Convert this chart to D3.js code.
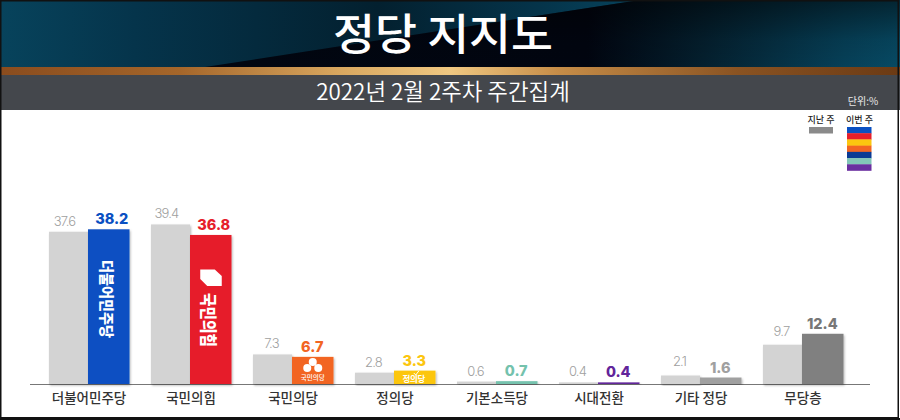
<!DOCTYPE html>
<html><head><meta charset="utf-8">
<script src="https://cdn.jsdelivr.net/npm/d3@7"></script>
<style>html,body{margin:0;padding:0;background:#fff}svg{display:block}text{font-family:"Noto Sans CJK KR",sans-serif}.n{font-family:Inter,sans-serif}</style>
</head><body><svg id="c" width="900" height="420"></svg>
<script>
const categories=["더불어민주당","국민의힘","국민의당","정의당","기본소득당","시대전환","기타 정당","무당층"];
const lastWeek=[37.6,39.4,7.3,2.8,0.6,0.4,2.1,9.7];
const lastWeekLabels=["37.6","39.4","7.3","2.8","0.6","0.4","2.1","9.7"];
const thisWeek=[38.2,36.8,6.7,3.3,0.7,0.4,1.6,12.4];
const thisWeekLabels=["38.2","36.8","6.7","3.3","0.7","0.4","1.6","12.4"];
const thisColors=["#0a50c2","#e61e2b","#f26522","#fcc60f","#74c2ad","#62259a","#a0a0a0","#808080"];
const labelColors=["#0a50c2","#e61e2b","#f26522","#fcc60f","#74c2ad","#62259a","#a0a0a0","#777777"];
const legendColors=["#0a50c2","#e61e2b","#fcc60f","#f26522","#0a3a94","#82c6b8","#6a2fa0"];
const title="정당 지지도";
const subtitle="2022년 2월 2주차 주간집계";
const unit="단위:%";
const legendLabels=["지난 주","이번 주"];

const svg=d3.select("#c");
const defs=svg.append("defs");
function grad(id,stops,vertical){
  const g=defs.append("linearGradient").attr("id",id);
  if(vertical) g.attr("x2",0).attr("y2",1);
  stops.forEach(s=>{const t=g.append("stop").attr("offset",s[0]).attr("stop-color",s[1]); if(s[2]!==undefined) t.attr("stop-opacity",s[2]);});
}
grad("hdr",[[0,"#07435c"],[0.15,"#05344b"],[0.42,"#03202f"],[0.6,"#05344a"],[0.72,"#07455f"],[1,"#07455f"]]);
grad("hdr2",[[0,"#010611"],[0.55,"#010510"],[0.72,"#04202f"],[0.92,"#064058"],[1,"#074a64"]]);
grad("fade",[[0,"#000",0.5],[0.6,"#000",0.1],[1,"#000",0]],true);
grad("gold",[[0,"#8a4c1e"],[0.2,"#a5662a"],[0.38,"#d9a860"],[0.5,"#f0c882"],[0.62,"#c68d48"],[0.82,"#8a5322"],[1,"#6b3a14"]]);
const f=defs.append("filter").attr("id","sh").attr("x","-10%").attr("y","-10%").attr("width","125%").attr("height","125%");
f.append("feDropShadow").attr("dx",1).attr("dy",1.5).attr("stdDeviation",1.2).attr("flood-color","#000").attr("flood-opacity",0.28);

// header
const wedge="M205 67 L640 0 L900 0 L900 67 Z";
svg.append("rect").attr("width",900).attr("height",420).attr("fill","#fff");
svg.append("rect").attr("x",0).attr("y",0).attr("width",900).attr("height",67).attr("fill","url(#hdr)");
svg.append("path").attr("d",wedge).attr("fill","url(#hdr2)");
svg.append("path").attr("d",wedge).attr("fill","url(#fade)");
svg.append("rect").attr("x",0).attr("y",67).attr("width",900).attr("height",8).attr("fill","url(#gold)");
svg.append("rect").attr("x",0).attr("y",75).attr("width",900).attr("height",35).attr("fill","#44474c");
svg.append("text").attr("x",443).attr("y",50).attr("text-anchor","middle").attr("font-size",43).attr("font-weight",500).attr("textLength",220).attr("lengthAdjust","spacingAndGlyphs").attr("fill","#fff").text(title);
svg.append("text").attr("x",443).attr("y",100).attr("text-anchor","middle").attr("font-size",22.4).attr("font-weight",350).attr("fill","#fff").text(subtitle);
svg.append("text").attr("x",863).attr("y",105).attr("text-anchor","middle").attr("font-size",10).attr("fill","#e8e8e8").text(unit);

// legend
svg.append("text").attr("x",821).attr("y",123).attr("text-anchor","middle").attr("font-size",9).attr("font-weight",500).attr("fill","#222").text(legendLabels[0]);
svg.append("text").attr("x",859.5).attr("y",123).attr("text-anchor","middle").attr("font-size",9).attr("font-weight",500).attr("fill","#222").text(legendLabels[1]);
svg.append("rect").attr("x",809).attr("y",127).attr("width",24).attr("height",6.5).attr("fill","#8a8a8a");
const ly=d3.scaleBand().domain(d3.range(legendColors.length)).range([127,170.5]);
svg.selectAll(".lg").data(legendColors).join("rect").attr("x",847).attr("width",24.5)
  .attr("y",(d,i)=>ly(i)).attr("height",ly.bandwidth()+0.3).attr("fill",d=>d);

// chart
const x=d3.scaleBand().domain(categories).range([37,853]).paddingInner(0).paddingOuter(0);
const y=d3.scaleLinear().domain([0,40]).range([384,222]);
const gw=39, cw=41.5, off=12;
svg.append("line").attr("x1",30).attr("x2",870).attr("y1",384.5).attr("y2",384.5).attr("stroke","#777").attr("stroke-width",1);
const g=svg.selectAll(".grp").data(categories).join("g").attr("transform",d=>`translate(${x(d)+off},0)`);
g.append("rect").attr("x",0).attr("width",gw).attr("y",(d,i)=>y(lastWeek[i])).attr("height",(d,i)=>384-y(lastWeek[i])).attr("fill","#d3d3d3").attr("filter","url(#sh)");
g.append("rect").attr("x",gw).attr("width",cw).attr("y",(d,i)=>y(thisWeek[i])).attr("height",(d,i)=>384-y(thisWeek[i])).attr("fill",(d,i)=>thisColors[i]).attr("filter","url(#sh)");
g.append("text").attr("class","n").attr("x",(d,i)=>i<2?15.5:18.5).attr("y",(d,i)=>y(lastWeek[i])-(i>=6?9:6)).attr("text-anchor","middle").attr("font-size",13).attr("font-weight",300).attr("fill","#a0a0a0").attr("letter-spacing",-0.8).text((d,i)=>lastWeekLabels[i]);
g.append("text").attr("class","n").attr("x",(d,i)=>gw+cw/2+(i<2?3:-0.5)).attr("y",(d,i)=>y(thisWeek[i])-5).attr("text-anchor","middle").attr("font-size",14.5).attr("font-weight",800).attr("fill",(d,i)=>labelColors[i]).text((d,i)=>thisWeekLabels[i]);
g.append("text").attr("x",40).attr("y",402.5).attr("text-anchor","middle").attr("font-size",13.5).attr("font-weight",500).attr("fill","#333").text(d=>d);

// party marks inside bars
const cx=i=>x(categories[i])+off+gw+cw/2;
svg.append("text").attr("transform",`translate(${cx(0)-8},299) rotate(90)`).attr("text-anchor","middle").attr("font-size",14.5).attr("font-weight",900).attr("fill","#fff").text(categories[0]).attr("textLength",78).attr("lengthAdjust","spacingAndGlyphs");
svg.append("path").attr("transform",`translate(${cx(1)},0)`).attr("d","M-10.5 269.5 L4 269.5 L11 276 L11 286 L-3.5 286 L-10.5 279 Z").attr("fill","#fff");
svg.append("text").attr("transform",`translate(${cx(1)-8.5},320) rotate(90)`).attr("text-anchor","middle").attr("font-size",16.5).attr("font-weight",900).attr("fill","#fff").text(categories[1]).attr("textLength",54).attr("lengthAdjust","spacingAndGlyphs");
const oc=svg.append("g").attr("transform",`translate(${cx(2)},0)`).attr("fill","#fff");
[[0,362],[-5.5,368],[5.5,368]].forEach(p=>oc.append("circle").attr("cx",p[0]).attr("cy",p[1]).attr("r",4));
oc.append("text").attr("x",0).attr("y",380).attr("text-anchor","middle").attr("font-size",6.5).attr("font-weight",500).text(categories[2]);
svg.append("text").attr("x",cx(3)-1).attr("y",382).attr("text-anchor","middle").attr("font-size",8.5).attr("font-weight",700).attr("fill","#fff").attr("letter-spacing",-0.4).text(categories[3]);
svg.append("path").attr("d",`M${cx(3)-1} 373 l2 2 l3 -4`).attr("fill","none").attr("stroke","#fff").attr("stroke-width",1);

// frame
svg.append("rect").attr("x",0.75).attr("y",0.75).attr("width",897.5).attr("height",417).attr("fill","none").attr("stroke","#111").attr("stroke-width",1.5);
svg.append("rect").attr("x",0).attr("y",418).attr("width",900).attr("height",2).attr("fill","#111");
</script></body></html>
